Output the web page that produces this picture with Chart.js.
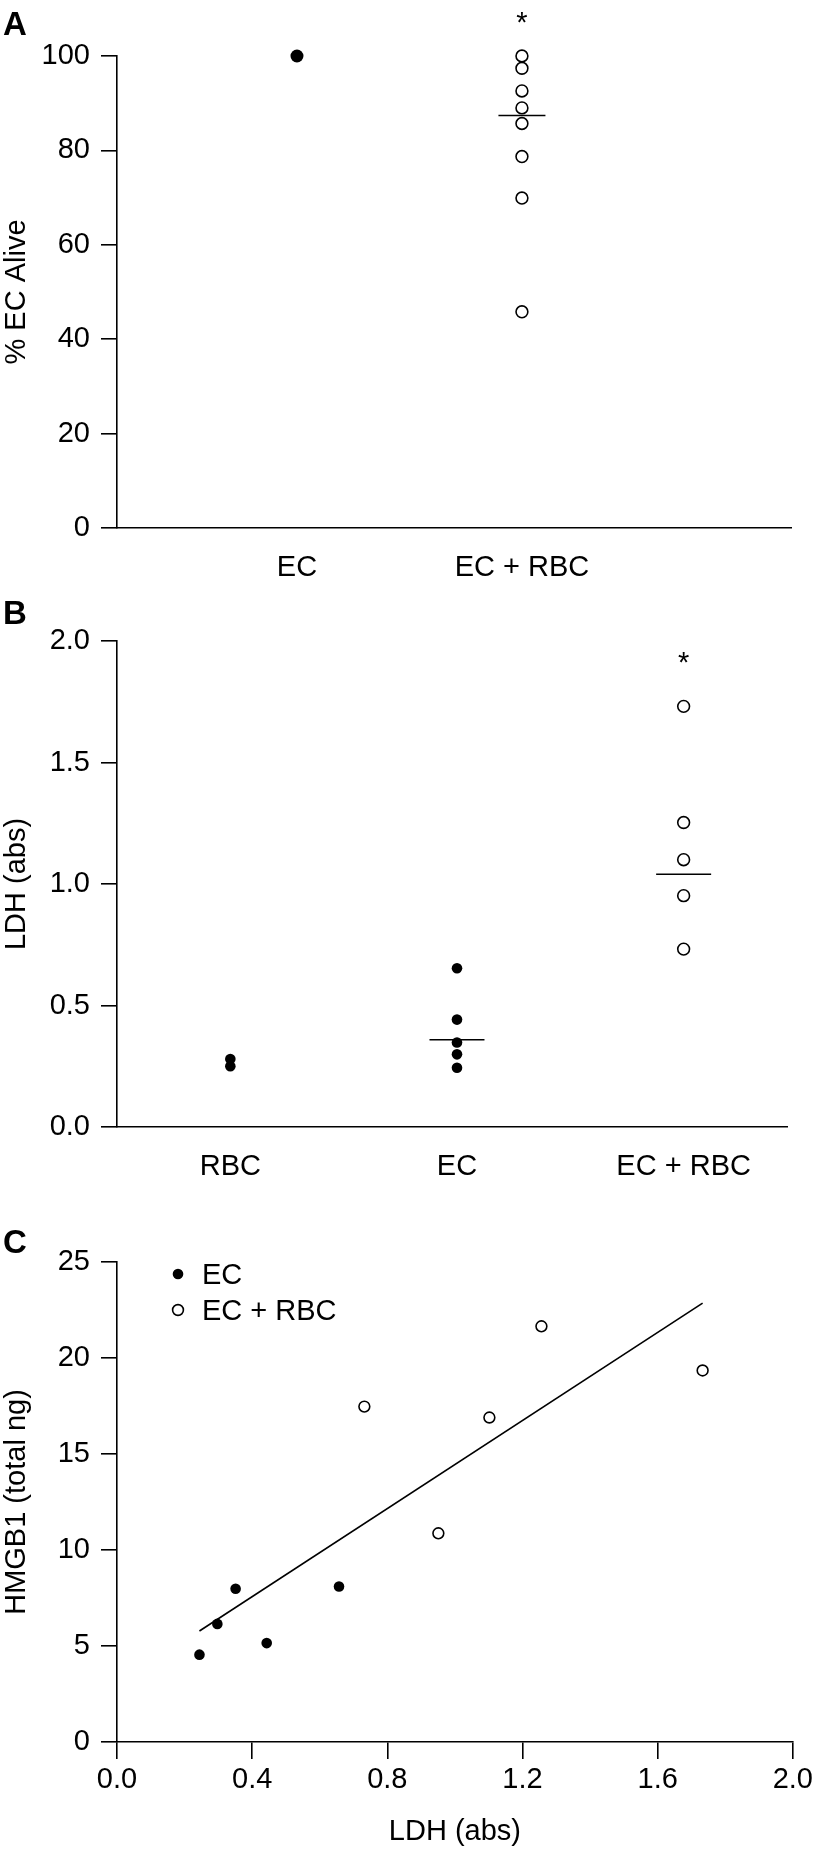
<!DOCTYPE html>
<html>
<head>
<meta charset="utf-8">
<script src="https://cdn.jsdelivr.net/npm/chart.js@4.4.0/dist/chart.umd.min.js"></script>
<style>
  body { margin: 0; background: #fff; }
  canvas { position: absolute; left: 0; }
  .tag { position: absolute; left: 3px; z-index: 2; color: #000;
         font: bold 33px/1 'Liberation Sans', Arial, sans-serif; }
</style>
</head>
<body>
<div class="tag" style="top:7px">A</div>
<div class="tag" style="top:596px">B</div>
<div class="tag" style="top:1225px">C</div>
<canvas id="chart-a" width="817" height="600" style="top:0"></canvas>
<canvas id="chart-b" width="817" height="600" style="top:600px"></canvas>
<canvas id="chart-c" width="817" height="651" style="top:1200px"></canvas>
<script>
// Panel A - % EC alive
const aliveCats = ['EC', 'EC + RBC'];
const aliveEC = [100];
const aliveECRBC = [100, 97.4, 92.6, 89.0, 85.7, 78.7, 69.9, 45.8];
const aliveBar = [87.4];
const aliveStar = [null, 108.5];
const aliveTicks = [0, 20, 40, 60, 80, 100];

// Panel B - LDH per group
const ldhCats = ['RBC', 'EC', 'EC + RBC'];
const ldhRBC = [0.28, 0.25];
const ldhEC = [0.653, 0.442, 0.348, 0.299, 0.244];
const ldhECRBC = [1.731, 1.253, 1.100, 0.952, 0.732];
const ldhBars = [null, 0.359, 1.040];
const ldhStar = [null, null, 1.94];
const ldhTicks = [0, 0.5, 1.0, 1.5, 2.0];

// Panel C - HMGB1 vs LDH
const ecLdh = [0.244, 0.297, 0.351, 0.443, 0.657];
const ecHmgb = [4.55, 6.15, 7.98, 5.15, 8.1];
const ecRbcLdh = [0.732, 0.951, 1.102, 1.256, 1.733];
const ecRbcHmgb = [17.47, 10.87, 16.90, 21.65, 19.35];
const fitLdh = [0.244, 1.733];
const fitHmgb = [5.78, 22.86];
const hmgbTicks = [0, 5, 10, 15, 20, 25];
const ldhAxisTicks = [0, 0.4, 0.8, 1.2, 1.6, 2.0];

const family = "'Liberation Sans', Arial, Helvetica, sans-serif";
const font = { family: family, size: 29 };

// put values of one category at x = index + 1
function place(idx, values) {
    return values.map(v => ({ x: idx + 1, y: v }));
}
function pairs(xs, ys) {
    return xs.map((x, i) => ({ x: x, y: ys[i] }));
}

const filled = { backgroundColor: '#000', borderColor: '#000', borderWidth: 0, pointRadius: 5.3 };
const open = { backgroundColor: '#fff', borderColor: '#000', borderWidth: 1.6, pointRadius: 5.9 };
const bar = { pointStyle: 'line', borderColor: '#000', borderWidth: 1.6, pointRadius: 24 };

function yAxis(title, ticks, fmt) {
    return {
        type: 'linear',
        min: ticks[0],
        max: ticks[ticks.length - 1],
        afterBuildTicks: s => { s.ticks = ticks.map(v => ({ value: v })); },
        afterFit: s => { s.width = 117; },
        border: { display: true, color: '#000', width: 1.6 },
        grid: { drawOnChartArea: false, drawTicks: true, tickLength: 16, color: '#000', lineWidth: 1.6 },
        ticks: { color: '#000', font: font, padding: 11, autoSkip: false, callback: fmt },
        title: { display: true, text: title, color: '#000', font: font, padding: 0 }
    };
}

function catAxis(cats, min, max) {
    return {
        type: 'linear',
        min: min,
        max: max,
        afterBuildTicks: s => { s.ticks = cats.map((c, i) => ({ value: i + 1 })); },
        afterFit: s => { s.height = 60; },
        border: { display: true, color: '#000', width: 1.6 },
        grid: { display: false, drawTicks: false, tickLength: 0 },
        ticks: { color: '#000', font: font, padding: 23, autoSkip: false, maxRotation: 0,
                 callback: v => cats[Math.round(v) - 1] }
    };
}

function starPlugin(values) {
    return {
        id: 'stars',
        afterDatasetsDraw(chart) {
            const ctx = chart.ctx, x = chart.scales.x, y = chart.scales.y;
            ctx.save();
            ctx.font = '29px ' + family;
            ctx.textAlign = 'center';
            ctx.fillStyle = '#000';
            values.forEach((v, i) => {
                if (v == null) return;
                ctx.fillText('*', x.getPixelForValue(i + 1), y.getPixelForValue(v) + 16.5);
            });
            ctx.restore();
        }
    };
}

const common = {
    responsive: false,
    animation: false,
    events: [],
    plugins: { legend: { display: false }, tooltip: { enabled: false } }
};

// Panel A
new Chart(document.getElementById('chart-a'), {
    type: 'scatter',
    data: {
        datasets: [
            Object.assign({ data: place(0, aliveEC), clip: false }, filled, { pointRadius: 6.5 }),
            Object.assign({ data: place(1, aliveECRBC), clip: false }, open),
            Object.assign({ data: place(1, aliveBar), clip: false }, bar, { pointRadius: 23.5 })
        ]
    },
    options: Object.assign({}, common, {
        layout: { padding: { top: 56, right: 24, bottom: 12, left: 0 } },
        scales: {
            x: catAxis(aliveCats, 0.2, 3.2),
            y: yAxis('% EC Alive', aliveTicks, v => String(v))
        }
    }),
    plugins: [starPlugin(aliveStar)]
});

// Panel B
new Chart(document.getElementById('chart-b'), {
    type: 'scatter',
    data: {
        datasets: [
            Object.assign({ data: place(0, ldhRBC), clip: false }, filled),
            Object.assign({ data: place(1, ldhEC), clip: false }, filled),
            Object.assign({ data: place(2, ldhECRBC), clip: false }, open),
            Object.assign({ data: ldhBars.map((v, i) => ({ x: i + 1, y: v })).filter(p => p.y != null), clip: false },
                bar, { pointRadius: 27.5 })
        ]
    },
    options: Object.assign({}, common, {
        layout: { padding: { top: 41, right: 24, bottom: 13, left: 0 } },
        scales: {
            x: catAxis(ldhCats, 0.5, 3.46),
            y: yAxis('LDH (abs)', ldhTicks, v => v.toFixed(1))
        }
    }),
    plugins: [starPlugin(ldhStar)]
});

// Panel C legend, drawn inside the plot area
const legendC = {
    id: 'legendC',
    afterDraw(chart) {
        const ctx = chart.ctx, area = chart.chartArea;
        chart.data.datasets.filter(d => d.label).forEach((d, i) => {
            const cx = area.left + 61, cy = area.top + 12 + i * 36;
            ctx.save();
            ctx.beginPath();
            ctx.arc(cx, cy, d.pointRadius, 0, Math.PI * 2);
            ctx.fillStyle = d.backgroundColor;
            ctx.fill();
            if (d.borderWidth) {
                ctx.lineWidth = d.borderWidth;
                ctx.strokeStyle = d.borderColor;
                ctx.stroke();
            }
            ctx.fillStyle = '#000';
            ctx.font = '29px ' + family;
            ctx.textBaseline = 'alphabetic';
            ctx.fillText(d.label, area.left + 85, cy + 10.4);
            ctx.restore();
        });
    }
};

// x axis of panel C: real ticks pointing down, plus a title
const xC = yAxis('LDH (abs)', ldhAxisTicks, v => v.toFixed(1));
xC.afterFit = s => { s.height = 107; };
xC.grid.tickLength = 17;
xC.ticks.padding = 4;
xC.ticks.maxRotation = 0;

new Chart(document.getElementById('chart-c'), {
    type: 'scatter',
    data: {
        datasets: [
            Object.assign({ label: 'EC', data: pairs(ecLdh, ecHmgb), clip: false }, filled),
            Object.assign({ label: 'EC + RBC', data: pairs(ecRbcLdh, ecRbcHmgb), clip: false }, open, { pointRadius: 5.4 }),
            { data: pairs(fitLdh, fitHmgb), showLine: true, pointRadius: 0, borderColor: '#000',
              borderWidth: 1.6, clip: false }
        ]
    },
    options: Object.assign({}, common, {
        layout: { padding: { top: 62, right: 24, bottom: 2, left: 0 } },
        scales: {
            x: xC,
            y: yAxis('HMGB1 (total ng)', hmgbTicks, v => String(v))
        }
    }),
    plugins: [legendC]
});
</script>
</body>
</html>
